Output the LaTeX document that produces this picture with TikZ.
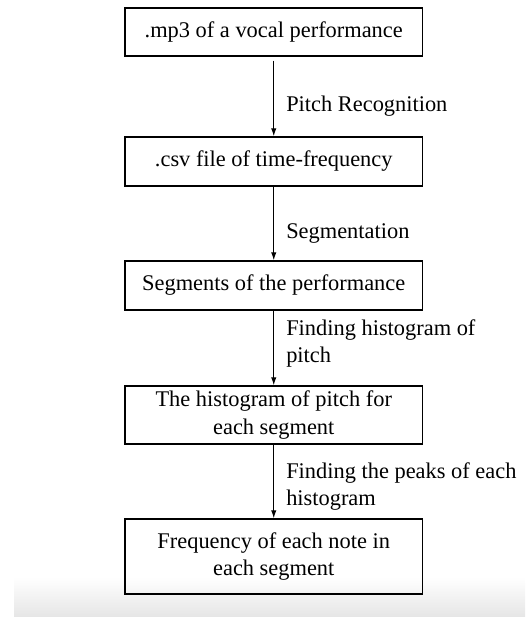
\documentclass[tikz,border=0pt]{standalone}
\usepackage{fontspec}
\setmainfont{Liberation Serif}
\usetikzlibrary{arrows.meta}
\tikzset{
  stepbox/.style={draw, line width=1pt, minimum width=297.5*0.75pt, inner sep=0pt, align=center},
  lbl/.style={anchor=west, inner sep=0pt, align=left},
  flow/.style={-{Latex[length=6pt,width=4pt]}, line width=0.8pt}
}
\begin{document}
\begin{tikzpicture}[x=0.75pt,y=-0.75pt,font=\fontsize{16.8}{20.5}\selectfont]
\useasboundingbox (0,0) rectangle (525,617);
\shade[top color=white, bottom color=black!10] (14,577) rectangle (525,617);

\node[stepbox, minimum height=48*0.75pt] (mp3) at (273.75,32) {.mp3 of a vocal performance};
\node[stepbox, minimum height=49*0.75pt] (csv) at (273.75,161.5) {.csv file of time-frequency};
\node[stepbox, minimum height=49*0.75pt] (seg) at (273.75,285.5) {Segments of the performance};
\node[stepbox, minimum height=58*0.75pt] (hist) at (273.75,415) {The histogram of pitch for\\each segment};
\node[stepbox, minimum height=75*0.75pt] (freq) at (273.75,556.5) {Frequency of each note in\\each segment};

\draw[flow] ([yshift=-3pt]mp3.south) -- (csv.north);
\node[lbl] (rec) at (286,106) {Pitch Recognition};

\draw[flow] (csv.south) -- (seg.north);
\node[lbl] (cut) at (286,233) {Segmentation};

\draw[flow] (seg.south) -- (hist.north);
\node[lbl] (findhist) at (286,343.5) {Finding histogram of\\pitch};

\draw[flow] (hist.south) -- (freq.north);
\node[lbl] (peaks) at (286,486.5) {Finding the peaks of each\\histogram};
\end{tikzpicture}
\end{document}
